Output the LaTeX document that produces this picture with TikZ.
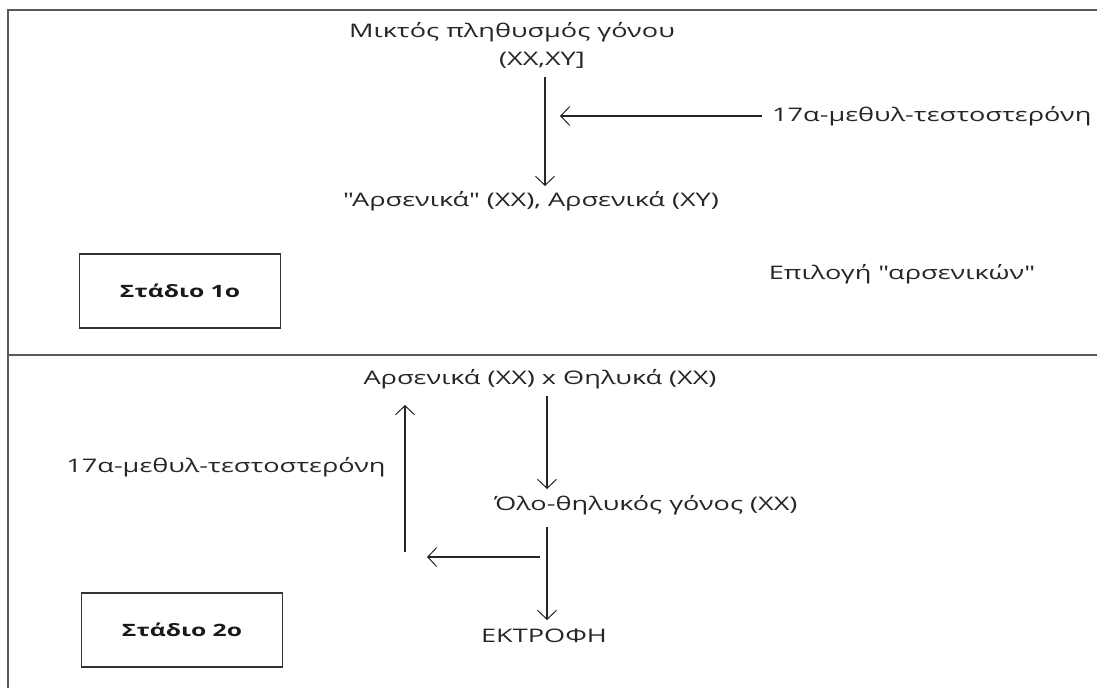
\documentclass[tikz,border=0pt]{standalone}
\usepackage{fontspec}
\setmainfont{Open Sans}[FakeStretch=1.45, Ligatures=TeXOff]
\usetikzlibrary{arrows.meta}
\begin{document}
\begin{tikzpicture}[x=1pt,y=-1pt,
  lbl/.style={font=\fontsize{18.7}{20}\selectfont, inner sep=0pt, text=black!85},
  stage/.style={draw=black!80, line width=1.2pt, minimum width=201pt, minimum height=74pt, font=\bfseries\fontsize{17}{19}\selectfont, text=black!90},
  arr/.style={line width=1.1pt, draw=black!85, -{Straight Barb[length=9pt,width=19pt,line width=1pt]}},
  frame/.style={draw=black!65, line width=2pt}]
\useasboundingbox (0,0) rectangle (1097,688);
\fill[white] (0,0) rectangle (1097,688);
% frame
\draw[frame] (8,688) -- (8,10) -- (1097,10);
\draw[frame] (8,355) -- (1097,355);
% stage 1
\node[lbl] (mix) at (512,32) {Μικτός πληθυσμός γόνου};
\node[lbl] (mixg) at (542,60) {(XX,XY]};
\coordinate (a1s) at (545,77);
\node[lbl] (males1) at (531,201) {"Αρσενικά" (XX), Αρσενικά (XY)};
\draw[arr] (a1s) -- (545,186);
\node[lbl, anchor=west] (mt1) at (772,116) {17α-μεθυλ-τεστοστερόνη};
\coordinate (h1e) at (560,116);
\draw[arr] (mt1.west) ++(-10,0) -- (h1e);
\node[stage] (s1) at (180,291) {Στάδιο 1ο};
\node[lbl] (sel) at (902,274) {Επιλογή "αρσενικών"};
% stage 2
\node[lbl] (cross) at (540,379) {Αρσενικά (XX) x Θηλυκά (XX)};
\node[lbl] (allf) at (646,505) {Όλο-θηλυκός γόνος (XX)};
\node[lbl] (ekt) at (544,636) {ΕΚΤΡΟΦΗ};
\draw[arr] (547,396) -- (547,489);
\coordinate (split) at (547,557);
\draw[arr] (547,527) -- (547,620);
\coordinate (lt) at (427,557);
\draw[arr] (540,557) -- (lt);
\coordinate (ub) at (405,552);
\draw[arr] (ub) -- (405,405);
\node[lbl] (mt2) at (226,467) {17α-μεθυλ-τεστοστερόνη};
\node[stage] (s2) at (182,630) {Στάδιο 2ο};
\end{tikzpicture}
\end{document}
